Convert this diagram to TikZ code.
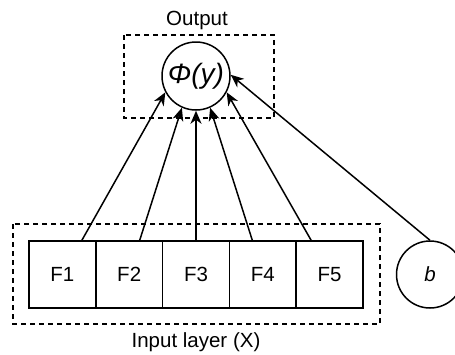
\documentclass[tikz,border=0pt]{standalone}
\usepackage{fontspec}
\setmainfont{Liberation Sans}
\usetikzlibrary{arrows.meta}
\begin{document}
\begin{tikzpicture}[x=1pt,y=-1pt,
  line width=1.5pt,
  lbl/.style={font=\fontsize{20.5}{24}\selectfont},
  feat/.style={draw, minimum width=66.8pt, minimum height=67pt, inner sep=0pt,
               font=\fontsize{20.5}{24}\selectfont},
  neuron/.style={draw, circle, inner sep=0pt},
  group/.style={draw, dash pattern=on 5pt off 4pt, line width=1.4pt},
  conn/.style={-{Stealth[length=13pt, width=11pt, inset=4pt]}}]
  \clip (0,0) rectangle (455,354);

  % layer frames
  \draw[group] (13,224) rectangle (380,324);
  \draw[group] (124,35) rectangle (274,118);
  \node[lbl] (outlbl) at (197,20) {Output};
  \node[lbl] (inlbl) at (196,342) {Input layer (X)};

  % input features
  \node[feat] (F1) at (62.4,274.5) {F1};
  \node[feat] (F2) at (129.2,274.5) {F2};
  \node[feat] (F3) at (196,274.5) {F3};
  \node[feat] (F4) at (262.8,274.5) {F4};
  \node[feat] (F5) at (329.6,274.5) {F5};

  % output unit and bias
  \node[neuron, minimum size=68pt, font=\fontsize{28}{32}\selectfont\itshape] (phi) at (196,76) {Φ(y)};
  \node[neuron, minimum size=67pt, font=\fontsize{20.5}{24}\selectfont\itshape] (b) at (430,274.5) {b};

  % connections
  \draw[conn] ([xshift=19.5pt]F1.north) -- (phi.208);
  \draw[conn] ([xshift=10.5pt]F2.north) -- (phi.246);
  \draw[conn] (F3.north) -- (phi.270);
  \draw[conn] ([xshift=-10.5pt]F4.north) -- (phi.294);
  \draw[conn] ([xshift=-18.5pt]F5.north) -- (phi.332);
  \draw[conn] (b.north) -- (phi.2);
\end{tikzpicture}
\end{document}
